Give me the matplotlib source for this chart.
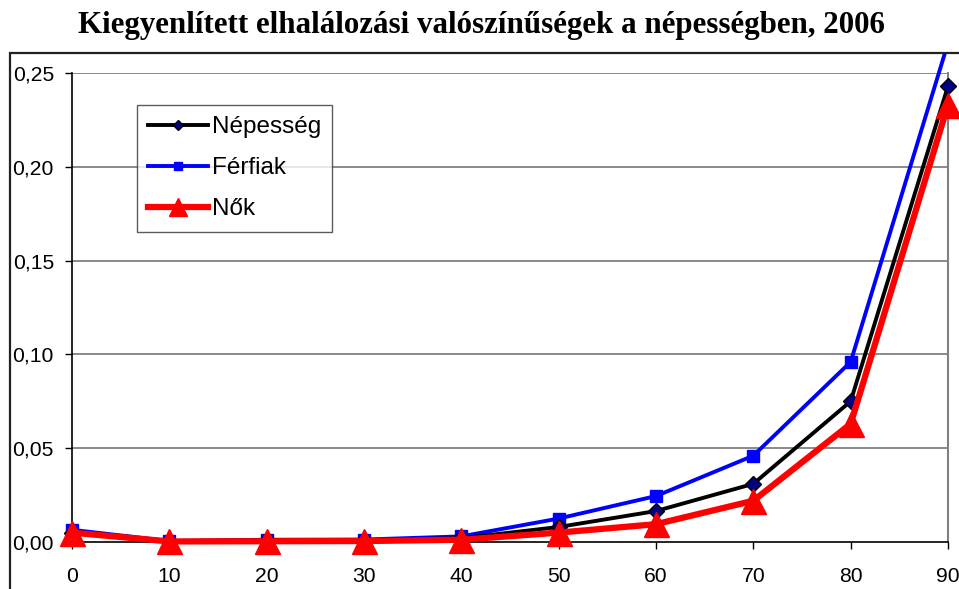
import matplotlib
matplotlib.use("Agg")
import matplotlib.pyplot as plt
from matplotlib.patches import Rectangle
from matplotlib.transforms import Bbox, TransformedBbox
from matplotlib.ticker import FuncFormatter

ages = [0, 10, 20, 30, 40, 50, 60, 70, 80, 90]
nepesseg = [0.005, 0.0004, 0.001, 0.001, 0.002, 0.008, 0.0165, 0.031, 0.075, 0.243]
ferfiak = [0.0065, 0.0005, 0.0012, 0.0013, 0.003, 0.0125, 0.0245, 0.046, 0.096, 0.266]
nok = [0.005, 0.0003, 0.0004, 0.0005, 0.0012, 0.005, 0.0095, 0.022, 0.063, 0.233]
yticks = [0.0, 0.05, 0.10, 0.15, 0.20, 0.25]
title = "Kiegyenlített elhalálozási valószínűségek a népességben, 2006"

W, H = 959, 589
fig = plt.figure(figsize=(W / 100, H / 100), dpi=100)
ax = fig.add_axes([72 / W, 1 - 542 / H, (948 - 72) / W, (542 - 73) / H])
ax.set_xlim(0, 90)
ax.set_ylim(0, 0.25)

# chart frame
fig.patches.append(Rectangle((10 / W, -0.1), 1.2, 1 - 53 / H + 0.1,
                             transform=fig.transFigure, fill=False,
                             edgecolor="#222222", linewidth=1.6, zorder=0))

fig.text(481 / W, 1 - 25 / H, title, ha="center", va="center",
         family="Liberation Serif", fontweight="bold", fontsize=22.3)

for y in yticks[1:]:
    ax.axhline(y, color="#808080", linewidth=1.3, zorder=1)

clip = TransformedBbox(Bbox([[0, 0], [1, 1 - 54 / H]]), fig.transFigure)

l1, = ax.plot(ages, nepesseg, color="black", linewidth=2.8, marker="D",
              markersize=8, markerfacecolor="#000080", markeredgecolor="black",
              markeredgewidth=1.0, label="Népesség", zorder=4)
l2, = ax.plot(ages, ferfiak, color="#0000FF", linewidth=2.8, marker="s",
              markersize=8.5, markerfacecolor="#0000FF", markeredgecolor="#0000FF",
              label="Férfiak", zorder=3)
l3, = ax.plot(ages, nok, color="#FF0000", linewidth=4.5, marker="^",
              markersize=18, markerfacecolor="#FF0000", markeredgecolor="#FF0000",
              label="Nők", zorder=5)
for l in (l1, l2, l3):
    l.set_clip_on(True)
    l.set_clip_box(clip)

ax.set_xticks(ages)
ax.set_yticks(yticks)
ax.yaxis.set_major_formatter(FuncFormatter(lambda v, p: f"{v:.2f}".replace(".", ",")))
ax.tick_params(axis="both", direction="out", length=5, width=1, colors="black",
               labelsize=15.2, labelfontfamily="Liberation Sans")
ax.tick_params(axis="x", pad=13)
ax.tick_params(axis="y", pad=8)

ax.spines["top"].set_visible(False)
ax.spines["right"].set_color("#808080")
ax.spines["right"].set_linewidth(1.5)
ax.spines["left"].set_linewidth(1.2)
ax.spines["bottom"].set_linewidth(1.2)

leg = fig.legend(handles=[l1, l2, l3], loc="upper left",
                 bbox_to_anchor=(137 / W, 1 - 105 / H),
                 prop={"family": "Liberation Sans", "size": 17.5},
                 frameon=True, fancybox=False, borderpad=0.47,
                 handlelength=2.45, handletextpad=0.15, labelspacing=0.78,
                 borderaxespad=0)
leg.get_frame().set_edgecolor("#333333")
leg.get_frame().set_linewidth(1.0)
for h in leg.legend_handles:
    h.set_markersize(h.get_markersize() * 0.7)

fig.savefig("out.png", dpi=100)
